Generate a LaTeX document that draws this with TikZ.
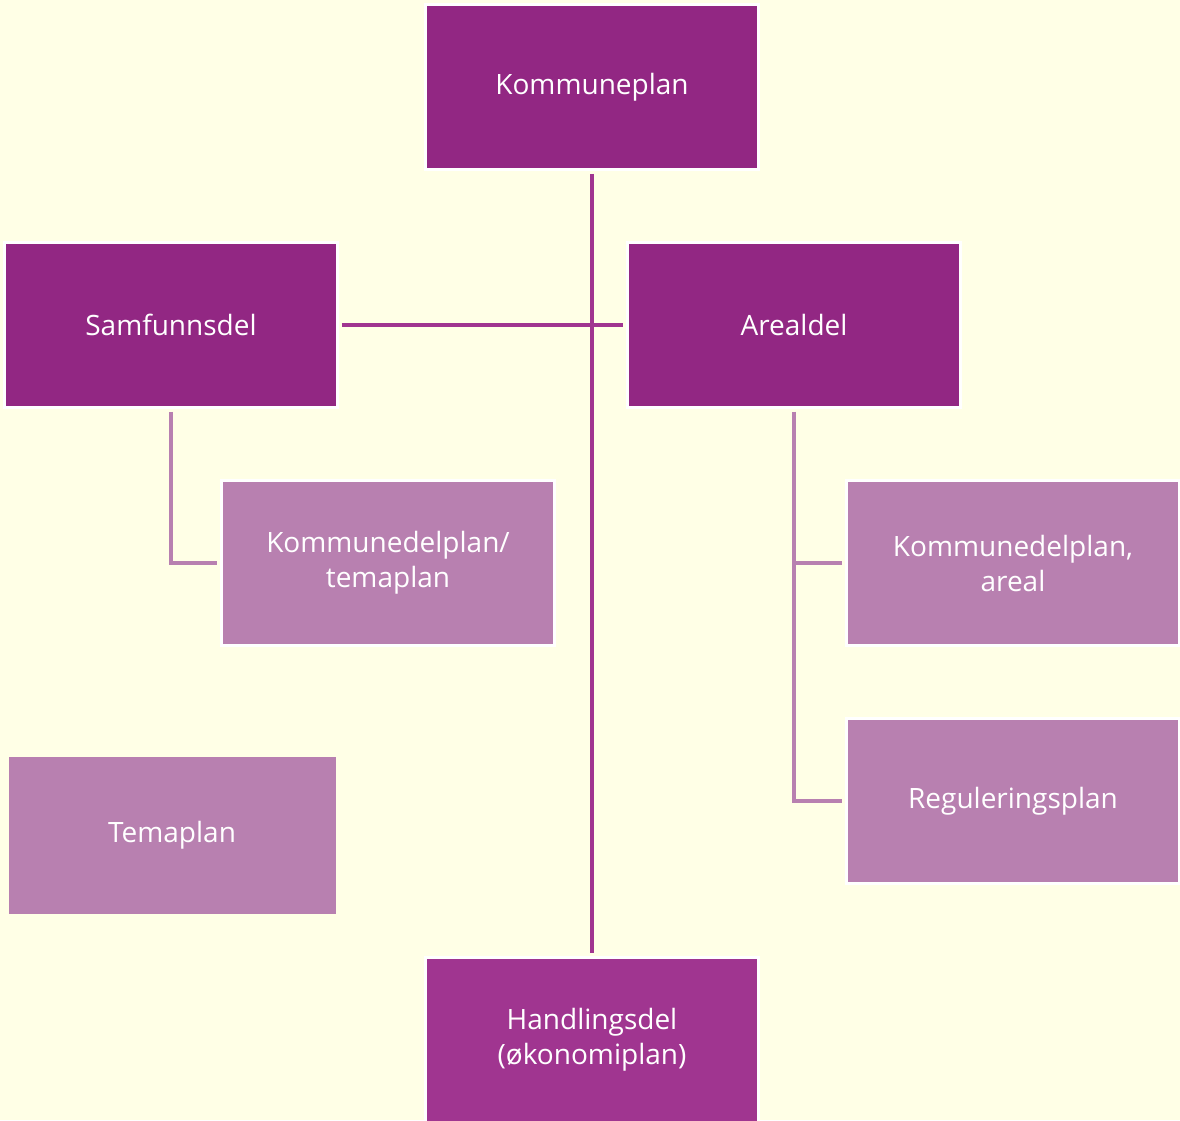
\documentclass[tikz,border=0pt]{standalone}
\usepackage{fontspec}
\setmainfont{Open Sans}
\usepackage{xcolor}
\definecolor{bgcream}{RGB}{255,255,230}
\definecolor{plumdark}{RGB}{146,39,131}
\definecolor{plummid}{RGB}{160,53,144}
\definecolor{plumlight}{RGB}{184,128,176}

\begin{document}
\begin{tikzpicture}[x=1pt, y=-1pt,
        planbox/.style={rectangle, draw=white, line width=2.5pt, text=white, align=center,
            minimum width=333pt, minimum height=165pt, inner sep=0pt,
            font=\fontsize{28}{35}\selectfont},
        mainline/.style={plummid, line width=4pt, shorten <=3pt, shorten >=3pt},
        subline/.style={plumlight, line width=3.5pt, shorten <=3pt, shorten >=3pt}]
            \fill[bgcream] (0,0) rectangle (1180,1120);
            \useasboundingbox (0,0) rectangle (1180,1120);
            \node[planbox, fill=plumdark] (kp) at (592,87) {Kommuneplan};
            \node[planbox, fill=plumdark] (sd) at (171,325) {Samfunnsdel};
            \node[planbox, fill=plumdark] (ad) at (794,325) {Arealdel};
            \node[planbox, fill=plumlight] (kdt) at (388,563) {Kommunedelplan/\\temaplan};
            \node[planbox, fill=plumlight] (kda) at (1013,563) {Kommunedelplan,\\areal};
            \node[planbox, fill=plumlight] (rp) at (1013,801) {Reguleringsplan};
            \node[planbox, fill=plumlight, draw=none, minimum width=327pt, minimum height=157pt] (tp) at (172,835) {Temaplan};
            \node[planbox, fill=plummid] (hd) at (592,1040) {Handlingsdel\\(økonomiplan)};
            \draw[mainline] (kp.south) -- (hd.north);
            \draw[mainline] (sd.east) -- (ad.west);
            \draw[subline] (sd.south) |- (kdt.west);
            \draw[subline] (ad.south) |- (kda.west);
            \draw[subline] (ad.south) |- (rp.west);
        \end{tikzpicture}
\end{document}
